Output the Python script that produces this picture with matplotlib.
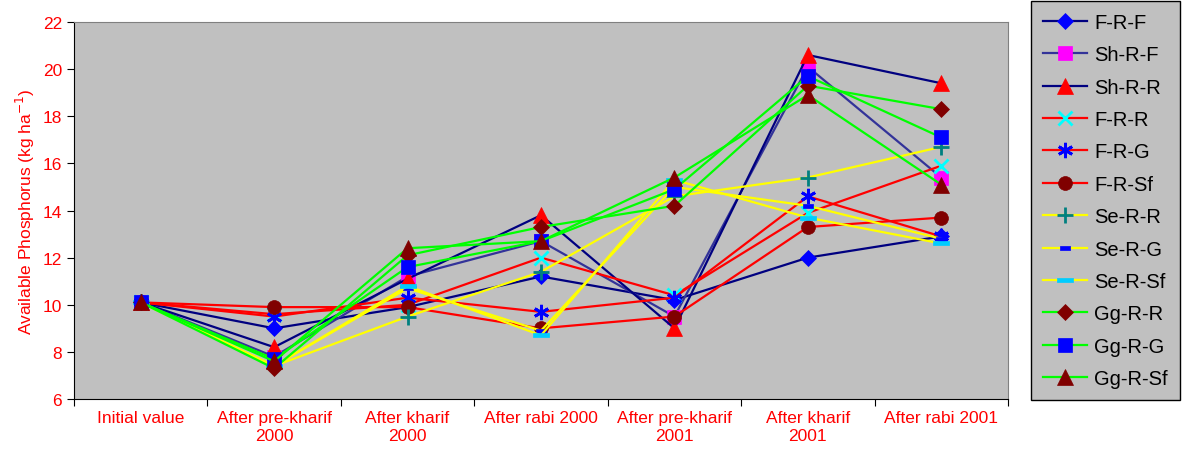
import matplotlib
matplotlib.use("Agg")
import matplotlib.pyplot as plt
from matplotlib.path import Path

plt.rcParams['font.family'] = ['Liberation Sans', 'DejaVu Sans']

categories = ['Initial value', 'After pre-kharif\n2000', 'After kharif\n2000',
              'After rabi 2000', 'After pre-kharif\n2001', 'After kharif\n2001',
              'After rabi 2001']

f_r_f = [10.1, 9.0, 9.9, 11.2, 10.2, 12.0, 12.9]
sh_r_f = [10.1, 7.8, 11.2, 12.7, 9.5, 20.1, 15.4]
sh_r_r = [10.1, 8.2, 11.1, 13.8, 9.0, 20.6, 19.4]
f_r_r = [10.1, 9.6, 10.0, 12.0, 10.4, 13.9, 15.9]
f_r_g = [10.1, 9.5, 10.3, 9.7, 10.3, 14.6, 12.9]
f_r_sf = [10.1, 9.9, 9.9, 9.0, 9.5, 13.3, 13.7]
se_r_r = [10.1, 7.4, 9.5, 11.4, 14.6, 15.4, 16.7]
se_r_g = [10.1, 7.4, 10.7, 8.9, 15.0, 14.2, 12.8]
se_r_sf = [10.1, 7.4, 10.8, 8.7, 15.3, 13.7, 12.6]
gg_r_r = [10.1, 7.3, 12.1, 13.3, 14.2, 19.3, 18.3]
gg_r_g = [10.1, 7.7, 11.6, 12.7, 14.9, 19.7, 17.1]
gg_r_sf = [10.1, 7.6, 12.4, 12.7, 15.4, 18.9, 15.1]

# small filled bars used by Excel as "dash" markers
short_dash = Path([(-1, -0.5), (1, -0.5), (1, 0.5), (-1, 0.5), (-1, -0.5)], closed=True)
long_dash = Path([(-1, -0.3), (1, -0.3), (1, 0.3), (-1, 0.3), (-1, -0.3)], closed=True)
asterisk = (6, 2, 0)

navy = '#000080'
slate = '#333399'
red = '#FF0000'
yellow = '#FFFF00'
green = '#00FF00'
maroon = '#800000'

# (label, values, line colour, marker, marker face, marker size)
series = [
    ('F-R-F', f_r_f, navy, 'D', '#0000FF', 8),
    ('Sh-R-F', sh_r_f, slate, 's', '#FF00FF', 10),
    ('Sh-R-R', sh_r_r, navy, '^', '#FF0000', 11),
    ('F-R-R', f_r_r, red, 'x', '#00FFFF', 10),
    ('F-R-G', f_r_g, red, asterisk, '#0000FF', 11),
    ('F-R-Sf', f_r_sf, red, 'o', maroon, 10),
    ('Se-R-R', se_r_r, yellow, '+', '#008080', 11),
    ('Se-R-G', se_r_g, yellow, short_dash, '#0000FF', 7),
    ('Se-R-Sf', se_r_sf, yellow, long_dash, '#00CCFF', 11),
    ('Gg-R-R', gg_r_r, green, 'D', maroon, 8),
    ('Gg-R-G', gg_r_g, green, 's', '#0000FF', 10),
    ('Gg-R-Sf', gg_r_sf, green, '^', maroon, 11),
]

fig = plt.figure(figsize=(11.86, 4.6), dpi=100)
ax = fig.add_axes([0.0624, 0.1304, 0.7875, 0.8196])
ax.set_facecolor('#C0C0C0')

x = list(range(len(categories)))
for label, vals, lc, mk, mf, ms in series:
    lined = mk in ('x', '+', asterisk)
    ax.plot(x, vals, color=lc, linewidth=1.6, marker=mk, markersize=ms,
            markerfacecolor=mf, markeredgecolor=mf,
            markeredgewidth=2 if lined else 0.5, label=label)

ax.set_xlim(-0.5, len(categories) - 0.5)
ax.set_ylim(6, 22)
ax.set_yticks(range(6, 23, 2))
ax.tick_params(axis='y', labelcolor='red', labelsize=12.5, length=5, direction='out')

ax.set_xticks([i - 0.5 for i in range(len(categories) + 1)])
ax.set_xticklabels([])
ax.set_xticks(x, minor=True)
ax.set_xticklabels(categories, minor=True, color='red', fontsize=12.5)
ax.tick_params(axis='x', which='major', length=5, direction='out')
ax.tick_params(axis='x', which='minor', length=0, pad=8)

for side in ('top', 'right'):
    ax.spines[side].set_color('#808080')
for side in ('left', 'bottom'):
    ax.spines[side].set_color('black')

ax.set_ylabel('Available Phosphorus (kg ha$^{-1}$)', color='red', fontsize=12.5, labelpad=4)

leg = fig.legend(loc='upper left', bbox_to_anchor=(0.869, 0.996), fontsize=14.5,
                 frameon=True, fancybox=False, edgecolor='black', facecolor='#C0C0C0',
                 framealpha=1, labelspacing=0.665, handlelength=2.2, handletextpad=0.35,
                 borderpad=0.6, borderaxespad=0)
leg.get_frame().set_linewidth(1.0)

fig.savefig('out.png', dpi=100)
